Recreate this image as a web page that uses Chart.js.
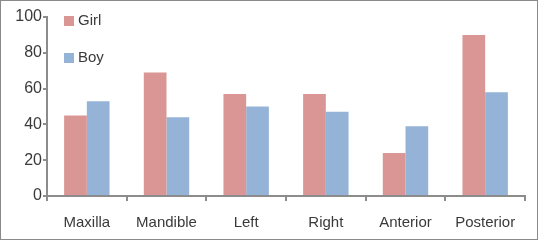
<!DOCTYPE html>
<html>
<head>
<meta charset="utf-8">
<script src="https://cdn.jsdelivr.net/npm/chart.js@4.4.0/dist/chart.umd.min.js"></script>
<style>
  html, body { margin: 0; padding: 0; background: #fff; }
  .wrap { width: 536px; height: 238px; border: 1px solid #8a8a8a; position: relative; }
</style>
</head>
<body>
<div class="wrap"><canvas id="myChart" width="536" height="238"></canvas></div>
<script>
const categories = ["Maxilla", "Mandible", "Left", "Right", "Anterior", "Posterior"];
const girl = [45, 69, 57, 57, 24, 90];
const boy = [53, 44, 50, 47, 39, 58];
const yTicks = [0, 20, 40, 60, 80, 100];

const axisGray = "#8c8c8c";
const textGray = "#3a3a3a";
const fontFam = "'Liberation Sans', Arial, sans-serif";

// legend drawn inside the plot, top-left, stacked
const insideLegend = {
    id: "insideLegend",
    afterDraw(chart) {
        const ctx = chart.ctx;
        const left = chart.chartArea.left + 17;
        const rows = [20, 57];
        ctx.save();
        ctx.font = "15px " + fontFam;
        ctx.textBaseline = "middle";
        chart.data.datasets.forEach((ds, i) => {
            const y = rows[i];
            ctx.fillStyle = ds.backgroundColor;
            ctx.fillRect(left, y - 5, 10, 10);
            ctx.fillStyle = textGray;
            ctx.fillText(ds.label, left + 14, y);
        });
        ctx.restore();
    }
};

const ctx = document.getElementById("myChart").getContext("2d");
const myChart = new Chart(ctx, {
    type: "bar",
    data: {
        labels: categories,
        datasets: [
            { label: "Girl", data: girl, backgroundColor: "#d99694" },
            { label: "Boy", data: boy, backgroundColor: "#95b3d7" },
        ],
    },
    options: {
        responsive: false,
        animation: false,
        layout: { padding: { top: 16, right: 12, left: 0, bottom: 0 } },
        datasets: {
            bar: { barPercentage: 1.0, categoryPercentage: 0.57 }
        },
        plugins: {
            legend: { display: false },
            tooltip: { enabled: false },
        },
        scales: {
            x: {
                afterFit: (s) => { s.height = 43; },
                grid: {
                    offset: true,
                    drawOnChartArea: false,
                    drawTicks: true,
                    tickLength: 5,
                    color: axisGray,
                    lineWidth: 2,
                },
                border: { color: axisGray, width: 2 },
                ticks: {
                    color: textGray,
                    padding: 13,
                    font: { family: fontFam, size: 15 },
                },
            },
            y: {
                min: 0,
                max: 100,
                afterBuildTicks: (s) => { s.ticks = yTicks.map(v => ({ value: v })); },
                afterFit: (s) => { s.width = 46; },
                grid: {
                    drawOnChartArea: false,
                    drawTicks: true,
                    tickLength: 4,
                    color: axisGray,
                    lineWidth: 2,
                },
                border: { color: axisGray, width: 2 },
                ticks: {
                    color: textGray,
                    padding: 1,
                    font: { family: fontFam, size: 16 },
                },
            },
        },
    },
    plugins: [insideLegend],
});
</script>
</body>
</html>
